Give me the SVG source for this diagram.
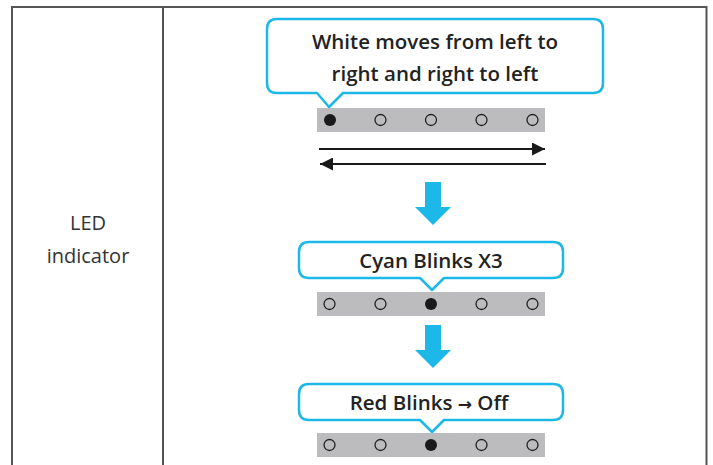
<svg xmlns="http://www.w3.org/2000/svg" width="713" height="465" viewBox="0 0 713 465">
<defs>
<style>
.frame{stroke:#555;stroke-width:2;fill:none}
.bubble{fill:#fff;stroke:#1cb8e8;stroke-width:2.5;stroke-linejoin:round}
.btxt{font-family:"Open Sans","Liberation Sans",sans-serif;font-weight:600;font-size:20.5px;fill:#222;text-anchor:middle}
.arr{font-family:"DejaVu Sans",sans-serif;font-weight:bold;font-size:17px}
.ltxt{font-family:"Open Sans","Liberation Sans",sans-serif;font-size:20px;fill:#333;text-anchor:middle}
.strip{fill:#bcbcbe}
.off{fill:none;stroke:#222;stroke-width:1.3}
.on{fill:#1a1a1a}
.blue{fill:#1cb8e8}
.line{stroke:#1a1a1a;stroke-width:2.2}
</style>
<marker id="ah" viewBox="0 0 10 10" refX="10" refY="5" markerWidth="18" markerHeight="13" markerUnits="userSpaceOnUse" orient="auto"><path d="M0,0 L10,5 L0,10 z" fill="#1a1a1a"/></marker>
</defs>
<rect width="713" height="465" fill="#fff"/>
<g id="table">
<line class="frame" x1="12" y1="7" x2="707" y2="7"/>
<line class="frame" x1="12" y1="6" x2="12" y2="465"/>
<line class="frame" x1="163" y1="6" x2="163" y2="465"/>
<line class="frame" x1="706.5" y1="6" x2="706.5" y2="465"/>
<text class="ltxt" x="88" y="230">LED</text>
<text class="ltxt" x="88" y="263">indicator</text>
</g>
<g id="bubble1">
<path class="bubble" d="M277,19 H593 Q603,19 603,29 V83 Q603,93 593,93 H343 L329,107 L317,93 H277 Q267,93 267,83 V29 Q267,19 277,19 Z"/>
<text class="btxt" x="435" y="49">White moves from left to</text>
<text class="btxt" x="435" y="81">right and right to left</text>
</g>
<g id="strip1">
<rect class="strip" x="317" y="108" width="228" height="24"/>
<circle class="on" cx="330" cy="120" r="6"/>
<circle class="off" cx="380.5" cy="120" r="5.5"/>
<circle class="off" cx="431" cy="120" r="5.5"/>
<circle class="off" cx="481.5" cy="120" r="5.5"/>
<circle class="off" cx="532.5" cy="120" r="5.5"/>
</g>
<g id="connectors">
<line class="line" x1="319" y1="149" x2="545" y2="149" marker-end="url(#ah)"/>
<line class="line" x1="546" y1="164" x2="320" y2="164" marker-end="url(#ah)"/>
<path class="blue" d="M425,182 H441 V207 H451 L433,225 L415,207 H425 Z"/>
<path class="blue" d="M425,325 H441 V350 H451 L433,368 L415,350 H425 Z"/>
</g>
<g id="bubble2">
<path class="bubble" d="M309,242 H553 Q563,242 563,252 V268 Q563,278 553,278 H444 L432,290 L420,278 H309 Q299,278 299,268 V252 Q299,242 309,242 Z"/>
<text class="btxt" x="431" y="268">Cyan Blinks X3</text>
</g>
<g id="strip2">
<rect class="strip" x="317" y="292" width="228" height="24"/>
<circle class="off" cx="329.5" cy="304" r="5.5"/>
<circle class="off" cx="380.5" cy="304" r="5.5"/>
<circle class="on" cx="431" cy="304" r="6"/>
<circle class="off" cx="481.5" cy="304" r="5.5"/>
<circle class="off" cx="532.5" cy="304" r="5.5"/>
</g>
<g id="bubble3">
<path class="bubble" d="M309,384 H553 Q563,384 563,394 V410 Q563,420 553,420 H444 L432,432 L420,420 H309 Q299,420 299,410 V394 Q299,384 309,384 Z"/>
<text class="btxt" x="429" y="410">Red Blinks <tspan class="arr">→</tspan> Off</text>
</g>
<g id="strip3">
<rect class="strip" x="317" y="433" width="228" height="24"/>
<circle class="off" cx="329.5" cy="445" r="5.5"/>
<circle class="off" cx="380.5" cy="445" r="5.5"/>
<circle class="on" cx="431" cy="445" r="6"/>
<circle class="off" cx="481.5" cy="445" r="5.5"/>
<circle class="off" cx="532.5" cy="445" r="5.5"/>
</g>
</svg>
